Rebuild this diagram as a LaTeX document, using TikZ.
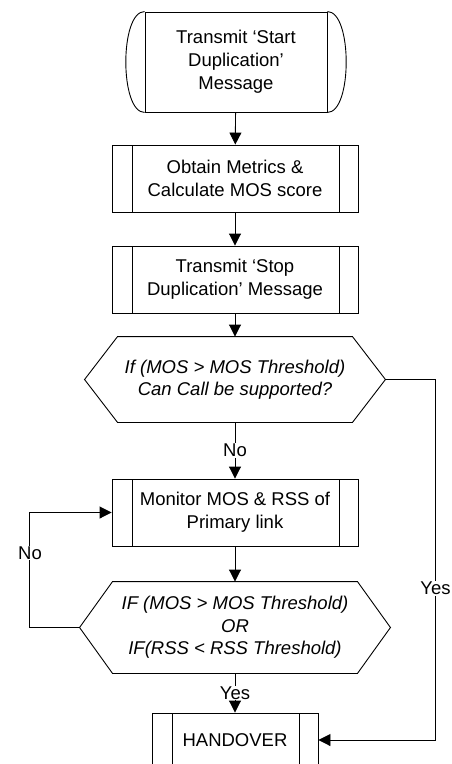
\documentclass[tikz,border=0pt]{standalone}
\usepackage{fontspec}
\setmainfont{Liberation Sans}
\usepackage{tikz}
\usetikzlibrary{arrows.meta, positioning, calc}

\begin{document}
\begin{tikzpicture}[x=1pt, y=-1pt, line width=0.9pt,
    every node/.style={font=\fontsize{18.5}{23}\selectfont, align=center},
    sub/.style={draw, rectangle, minimum width=246pt, minimum height=67pt,
        path picture={
            \draw ([xshift=20pt]path picture bounding box.north west) -- ([xshift=20pt]path picture bounding box.south west);
            \draw ([xshift=-19pt]path picture bounding box.north east) -- ([xshift=-19pt]path picture bounding box.south east);
        }},
    dec/.style={rectangle, minimum height=85pt, font=\fontsize{18.5}{22.5}\selectfont\itshape},
    lbl/.style={fill=white, inner sep=1pt},
    arr/.style={-{Triangle[length=12pt, width=12pt]}}]
    \useasboundingbox (0,0) rectangle (451,764);

    \node[draw, rectangle, minimum width=182pt, minimum height=100pt] (start) at (236, 62) {Transmit ‘Start\\ Duplication’\\ Message};
    \draw (start.north west) .. controls ([xshift=-25pt]start.north west) and ([xshift=-25pt]start.south west) .. (start.south west);
    \draw (start.north east) .. controls ([xshift=25pt]start.north east) and ([xshift=25pt]start.south east) .. (start.south east);

    \node[sub] (metrics) at (235, 178.5) {Obtain Metrics \&\\ Calculate MOS score};
    \node[sub] (stop) at (235, 279.5) {Transmit ‘Stop\\ Duplication’ Message};

    \node[dec, minimum width=300pt] (dec1) at (235, 379.5) {If (MOS > MOS Threshold)\\ Can Call be supported?};
    \draw (dec1.west) -- ([xshift=33pt]dec1.north west) -- ([xshift=-33pt]dec1.north east) -- (dec1.east)
        -- ([xshift=-33pt]dec1.south east) -- ([xshift=33pt]dec1.south west) -- cycle;

    \node[sub] (monitor) at (235, 512.5) {Monitor MOS \& RSS of\\ Primary link};

    \node[dec, minimum width=310pt, minimum height=91pt] (dec2) at (235, 627.5) {IF (MOS > MOS Threshold)\\ OR\\ IF(RSS < RSS Threshold)};
    \draw (dec2.west) -- ([xshift=33pt]dec2.north west) -- ([xshift=-33pt]dec2.north east) -- (dec2.east)
        -- ([xshift=-33pt]dec2.south east) -- ([xshift=33pt]dec2.south west) -- cycle;

    \node[sub, minimum width=166pt, minimum height=54pt] (ho) at (235, 740) {HANDOVER};

    \draw[arr] (start) -- (metrics);
    \draw[arr] (metrics) -- (stop);
    \draw[arr] (stop) -- (dec1);
    \draw[arr] (dec1) -- node[lbl] (no1) {No} (monitor);
    \draw[arr] (monitor) -- (dec2);
    \draw[arr] (dec2) -- node[lbl] (yes2) {Yes} (ho);
    \draw[arr] (dec2.west) -- ++(-50,0) |- (monitor.west);
    \node[lbl] (no2) at (30, 553) {No};
    \draw[arr] (dec1.east) -- ++(50,0) |- node[lbl, pos=0.29] (yes1) {Yes} (ho.east);
\end{tikzpicture}
\end{document}
